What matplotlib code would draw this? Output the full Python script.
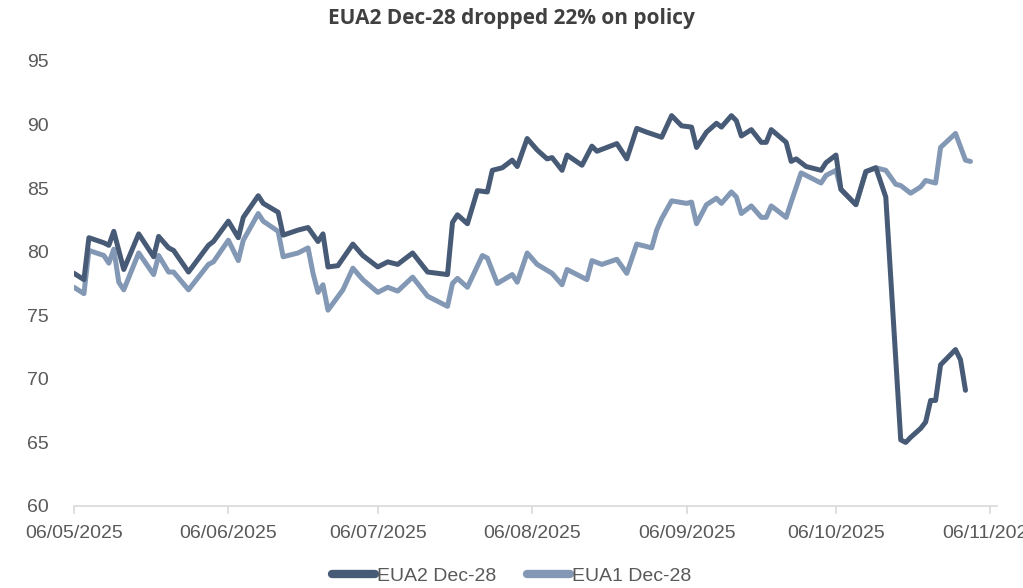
import numpy as np
import pandas as pd
import matplotlib
matplotlib.use('Agg')
from matplotlib import pyplot as plt
import matplotlib.dates as mdates

# EUA2 Dec-28
eua2_dates = ['2025-05-06', '2025-05-08', '2025-05-09', '2025-05-12', '2025-05-13', '2025-05-14',
              '2025-05-16', '2025-05-19', '2025-05-22', '2025-05-23', '2025-05-25', '2025-05-26',
              '2025-05-29', '2025-06-02', '2025-06-03', '2025-06-06', '2025-06-08', '2025-06-09',
              '2025-06-12', '2025-06-13', '2025-06-16', '2025-06-17', '2025-06-20', '2025-06-22',
              '2025-06-24', '2025-06-25', '2025-06-26', '2025-06-28', '2025-07-01', '2025-07-03',
              '2025-07-06', '2025-07-08', '2025-07-10', '2025-07-13', '2025-07-16', '2025-07-20',
              '2025-07-21', '2025-07-22', '2025-07-24', '2025-07-26', '2025-07-28', '2025-07-29',
              '2025-07-31', '2025-08-02', '2025-08-03', '2025-08-05', '2025-08-07', '2025-08-09',
              '2025-08-10', '2025-08-12', '2025-08-13', '2025-08-16', '2025-08-18', '2025-08-19',
              '2025-08-23', '2025-08-25', '2025-08-27', '2025-08-29', '2025-09-01', '2025-09-03',
              '2025-09-05', '2025-09-07', '2025-09-08', '2025-09-10', '2025-09-12', '2025-09-13',
              '2025-09-15', '2025-09-16', '2025-09-17', '2025-09-19', '2025-09-21', '2025-09-22',
              '2025-09-23', '2025-09-26', '2025-09-27', '2025-09-28', '2025-09-30', '2025-10-03',
              '2025-10-04', '2025-10-06', '2025-10-07', '2025-10-10', '2025-10-12', '2025-10-14',
              '2025-10-16', '2025-10-19', '2025-10-20', '2025-10-21', '2025-10-23', '2025-10-24',
              '2025-10-25', '2025-10-26', '2025-10-27', '2025-10-30', '2025-10-31', '2025-11-01']
eua2_vals = [78.3, 77.8, 81.1, 80.7, 80.5, 81.6,
             78.6, 81.4, 79.6, 81.2, 80.3, 80.1,
             78.4, 80.5, 80.8, 82.4, 81.1, 82.7,
             84.4, 83.8, 83.1, 81.3, 81.7, 81.9,
             80.8, 81.4, 78.8, 78.9, 80.6, 79.7,
             78.8, 79.2, 79.0, 79.9, 78.4, 78.2,
             82.3, 82.9, 82.2, 84.8, 84.7, 86.4,
             86.6, 87.2, 86.7, 88.9, 88.0, 87.3,
             87.4, 86.4, 87.6, 86.8, 88.3, 87.9,
             88.5, 87.3, 89.7, 89.4, 89.0, 90.7,
             89.9, 89.8, 88.2, 89.4, 90.1, 89.8,
             90.7, 90.3, 89.1, 89.6, 88.6, 88.6,
             89.6, 88.6, 87.1, 87.3, 86.7, 86.4,
             87.0, 87.6, 84.9, 83.7, 86.3, 86.6,
             84.3, 65.2, 65.0, 65.4, 66.1, 66.6,
             68.3, 68.3, 71.1, 72.3, 71.5, 69.1]

# EUA1 Dec-28
eua1_dates = ['2025-05-06', '2025-05-08', '2025-05-09', '2025-05-12', '2025-05-13', '2025-05-14',
              '2025-05-15', '2025-05-16', '2025-05-19', '2025-05-22', '2025-05-23', '2025-05-25',
              '2025-05-26', '2025-05-29', '2025-06-02', '2025-06-03', '2025-06-06', '2025-06-08',
              '2025-06-09', '2025-06-12', '2025-06-13', '2025-06-16', '2025-06-17', '2025-06-20',
              '2025-06-22', '2025-06-23', '2025-06-24', '2025-06-25', '2025-06-26', '2025-06-29',
              '2025-07-01', '2025-07-03', '2025-07-06', '2025-07-08', '2025-07-10', '2025-07-13',
              '2025-07-16', '2025-07-17', '2025-07-20', '2025-07-21', '2025-07-22', '2025-07-24',
              '2025-07-27', '2025-07-28', '2025-07-30', '2025-08-02', '2025-08-03', '2025-08-05',
              '2025-08-07', '2025-08-10', '2025-08-12', '2025-08-13', '2025-08-17', '2025-08-18',
              '2025-08-20', '2025-08-23', '2025-08-25', '2025-08-27', '2025-08-30', '2025-08-31',
              '2025-09-01', '2025-09-03', '2025-09-06', '2025-09-07', '2025-09-08', '2025-09-10',
              '2025-09-12', '2025-09-13', '2025-09-15', '2025-09-16', '2025-09-17', '2025-09-19',
              '2025-09-21', '2025-09-22', '2025-09-23', '2025-09-26', '2025-09-27', '2025-09-29',
              '2025-10-01', '2025-10-03', '2025-10-04', '2025-10-06', '2025-10-07', '2025-10-10',
              '2025-10-12', '2025-10-14', '2025-10-16', '2025-10-18', '2025-10-19', '2025-10-21',
              '2025-10-23', '2025-10-24', '2025-10-26', '2025-10-27', '2025-10-30', '2025-11-01',
              '2025-11-02']
eua1_vals = [77.2, 76.7, 80.1, 79.7, 79.1, 80.2,
             77.6, 77.0, 79.9, 78.2, 79.7, 78.4,
             78.4, 77.0, 79.0, 79.2, 80.9, 79.3,
             80.9, 83.0, 82.4, 81.6, 79.6, 79.9,
             80.3, 78.3, 76.8, 77.4, 75.4, 77.0,
             78.7, 77.8, 76.8, 77.2, 76.9, 78.0,
             76.5, 76.3, 75.7, 77.5, 77.9, 77.2,
             79.7, 79.5, 77.5, 78.2, 77.6, 79.9,
             79.0, 78.3, 77.4, 78.6, 77.8, 79.3,
             79.0, 79.4, 78.3, 80.6, 80.3, 81.7,
             82.6, 84.0, 83.8, 83.9, 82.2, 83.7,
             84.2, 83.8, 84.7, 84.3, 83.0, 83.6,
             82.7, 82.7, 83.6, 82.7, 83.9, 86.2,
             85.8, 85.4, 86.0, 86.4, 84.9, 83.7,
             86.3, 86.6, 86.4, 85.3, 85.2, 84.6,
             85.1, 85.6, 85.4, 88.2, 89.3, 87.2,
             87.1]

month_ticks = ['2025-05-06', '2025-06-06', '2025-07-06', '2025-08-06',
               '2025-09-06', '2025-10-06', '2025-11-06']

dark = '#475a76'
light = '#8298b5'
grey = '#595959'


def plot():
  plt.rcParams['font.family'] = ['Liberation Sans', 'DejaVu Sans']
  fig = plt.figure(figsize=(10.23, 5.88), dpi=100)
  ax = fig.add_axes([0.0723, 0.1395, 0.9023, 0.7568])

  ax.plot(pd.to_datetime(eua2_dates), eua2_vals, color=dark, lw=3.6,
          solid_joinstyle='round', solid_capstyle='round', label='EUA2 Dec-28', zorder=3)
  ax.plot(pd.to_datetime(eua1_dates), eua1_vals, color=light, lw=3.6,
          solid_joinstyle='round', solid_capstyle='round', label='EUA1 Dec-28', zorder=2)

  ax.set_ylim(60, 95)
  ax.set_yticks(np.arange(60, 96, 5))
  ax.set_xlim(pd.Timestamp('2025-05-06'), pd.Timestamp('2025-11-07 08:00'))
  ax.set_xticks(pd.to_datetime(month_ticks))
  ax.xaxis.set_major_formatter(mdates.DateFormatter('%d/%m/%Y'))

  for s in ['top', 'right', 'left']:
    ax.spines[s].set_visible(False)
  ax.spines['bottom'].set_color('#d9d9d9')
  ax.spines['bottom'].set_linewidth(1.2)
  ax.tick_params(axis='x', colors='#d9d9d9', length=6, width=1.2, labelcolor=grey,
                 labelsize=14, pad=8)
  ax.tick_params(axis='y', length=0, labelcolor=grey, labelsize=14, pad=18)

  for lab in ax.get_xticklabels():
    lab.set_clip_on(False)

  fig.text(0.5, 0.968, 'EUA2 Dec-28 dropped 22% on policy', ha='center', va='center',
           fontsize=15, fontweight='bold', color='#404040', family='Open Sans')

  leg = fig.legend(loc='center', bbox_to_anchor=(0.5, 0.02), ncol=2, frameon=False,
                   fontsize=14, handlelength=2.2, handletextpad=0.1, columnspacing=1.6,
                   labelcolor=grey)
  for line in leg.get_lines():
    line.set_linewidth(6)
  fig.savefig('out.png', dpi=100)


if __name__ == '__main__':
  plot()
